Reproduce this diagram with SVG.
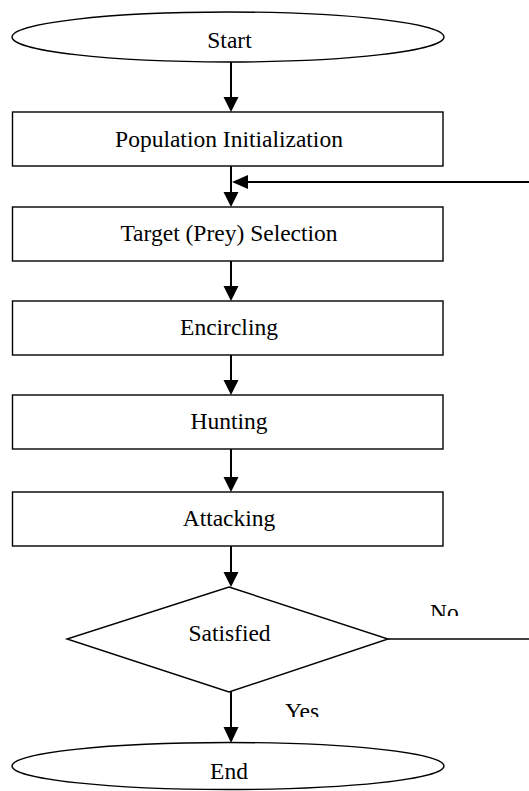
<svg xmlns="http://www.w3.org/2000/svg" width="529" height="791" viewBox="0 0 529 791">
<defs>
<style>
.shape{fill:#fff;stroke:#000;stroke-width:1.4}
.lbl{font-family:"Liberation Serif","Times New Roman",serif;font-size:23.5px;fill:#000;text-anchor:middle}
.lbl2{font-family:"Liberation Serif","Times New Roman",serif;font-size:23.5px;fill:#000}
.conn{stroke:#000;stroke-width:2;fill:none}
.head{fill:#000;stroke:none}
</style>
<clipPath id="clipNo"><rect x="420" y="590" width="60" height="26"/></clipPath>
<clipPath id="clipYes"><rect x="270" y="690" width="70" height="27"/></clipPath>
</defs>
<rect width="529" height="791" fill="#fff"/>
<g id="connectors">
<line class="conn" x1="231" y1="62" x2="231" y2="99"/>
<polygon class="head" points="223.5,97 238.5,97 231,112"/>
<line class="conn" x1="231" y1="166" x2="231" y2="194"/>
<polygon class="head" points="223.5,192 238.5,192 231,207"/>
<line class="conn" x1="529" y1="182" x2="246" y2="182"/>
<polygon class="head" points="248,175 248,189 232,182"/>
<line class="conn" x1="231" y1="261" x2="231" y2="288"/>
<polygon class="head" points="223.5,286 238.5,286 231,301"/>
<line class="conn" x1="231" y1="355" x2="231" y2="382"/>
<polygon class="head" points="223.5,380 238.5,380 231,395"/>
<line class="conn" x1="231" y1="449" x2="231" y2="479"/>
<polygon class="head" points="223.5,477 238.5,477 231,492"/>
<line class="conn" x1="231" y1="546" x2="231" y2="574"/>
<polygon class="head" points="223.5,572 238.5,572 231,587"/>
<line class="conn" x1="231" y1="692" x2="231" y2="729"/>
<polygon class="head" points="223.5,727 238.5,727 231,743"/>
<line class="conn" x1="388" y1="639" x2="529" y2="639" style="stroke-width:1.4"/>
<text class="lbl2" x="430" y="620" clip-path="url(#clipNo)">No</text>
<text class="lbl2" x="285" y="718.5" clip-path="url(#clipYes)">Yes</text>
</g>
<g id="start">
<ellipse class="shape" cx="228" cy="37" rx="216" ry="25"/>
<text class="lbl" x="229.5" y="47.5">Start</text>
</g>
<g id="population">
<rect class="shape" x="12.5" y="112" width="430.5" height="54"/>
<text class="lbl" x="229" y="146.5">Population Initialization</text>
</g>
<g id="target">
<rect class="shape" x="12.5" y="207" width="430.5" height="54"/>
<text class="lbl" x="229" y="240.5">Target (Prey) Selection</text>
</g>
<g id="encircling">
<rect class="shape" x="12.5" y="301" width="430.5" height="54"/>
<text class="lbl" x="229" y="334.5">Encircling</text>
</g>
<g id="hunting">
<rect class="shape" x="12.5" y="395" width="430.5" height="54"/>
<text class="lbl" x="229" y="428.5">Hunting</text>
</g>
<g id="attacking">
<rect class="shape" x="12.5" y="492" width="430.5" height="54"/>
<text class="lbl" x="229" y="525.5">Attacking</text>
</g>
<g id="satisfied">
<polygon class="shape" points="229,587 388,639 229,692 67,639"/>
<text class="lbl" x="229.5" y="640.7">Satisfied</text>
</g>
<g id="end">
<ellipse class="shape" cx="228" cy="766" rx="216" ry="23.5"/>
<text class="lbl" x="229" y="779">End</text>
</g>
</svg>
